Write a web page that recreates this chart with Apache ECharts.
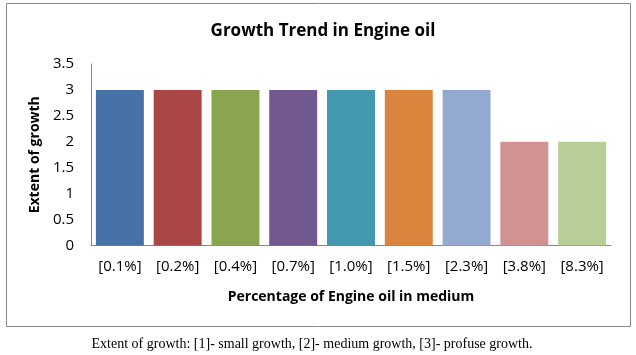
<!DOCTYPE html>
<html><head><meta charset="utf-8">
<script src="https://cdn.jsdelivr.net/npm/echarts@6/dist/echarts.min.js"></script>
<style>html,body{margin:0;padding:0;background:#fff}#c{width:636px;height:355px}</style>
</head><body><div id="c"></div>
<script>
const categories = ['[0.1%]','[0.2%]','[0.4%]','[0.7%]','[1.0%]','[1.5%]','[2.3%]','[3.8%]','[8.3%]'];
const values = [3,3,3,3,3,3,3,2,2];
const barColors = ['#4672A8','#AA4643','#89A54E','#71588F','#4198AF','#DB843D','#93A9CF','#D19392','#B9CD96'];
const yTicks = [0,0.5,1,1.5,2,2.5,3,3.5];
const titleText = 'Growth Trend in Engine oil';
const xName = 'Percentage of Engine oil in medium';
const yName = 'Extent of growth';
const caption = 'Extent of growth: [1]- small growth, [2]- medium growth, [3]- profuse growth.';

const chart = echarts.init(document.getElementById('c'), null, {renderer:'canvas'});
const font = 'Open Sans';
chart.setOption({
  animation:false,
  title:{text:titleText,left:318,textAlign:'center',top:18,textStyle:{fontFamily:font,fontWeight:'bold',fontSize:17,color:'#000'}},
  grid:{left:91,right:25,top:64,bottom:109.5,containLabel:false},
  xAxis:{type:'category',data:categories,
    axisLine:{lineStyle:{color:'#868686'}},axisTick:{show:false},
    axisLabel:{fontFamily:font,fontSize:15,color:'#000',margin:14,interval:0},
    name:xName,nameLocation:'middle',nameGap:45,
    nameTextStyle:{fontFamily:font,fontWeight:'bold',fontSize:14,color:'#000'}},
  yAxis:{type:'value',min:yTicks[0],max:yTicks[yTicks.length-1],interval:0.5,
    axisLine:{show:true,lineStyle:{color:'#868686'}},axisTick:{show:false},splitLine:{show:false},
    axisLabel:{fontFamily:font,fontSize:15,color:'#000',margin:17},
    name:yName,nameLocation:'middle',nameGap:46,nameRotate:90,
    nameTextStyle:{fontFamily:font,fontWeight:'bold',fontSize:14,color:'#000'}},
  series:[{type:'bar',data:values.map((v,i)=>({value:v,itemStyle:{color:barColors[i]}})),
    barCategoryGap:'17%'}],
  graphic:[
    {type:'rect',shape:{x:6.5,y:3.5,width:624,height:323},style:{fill:null,stroke:'#868686',lineWidth:1},z:-1},
    {type:'text',x:312,y:344,style:{text:caption,fontFamily:'Liberation Serif',fontSize:14,fill:'#000',textAlign:'center',textVerticalAlign:'middle'}}
  ]
});
</script></body></html>
